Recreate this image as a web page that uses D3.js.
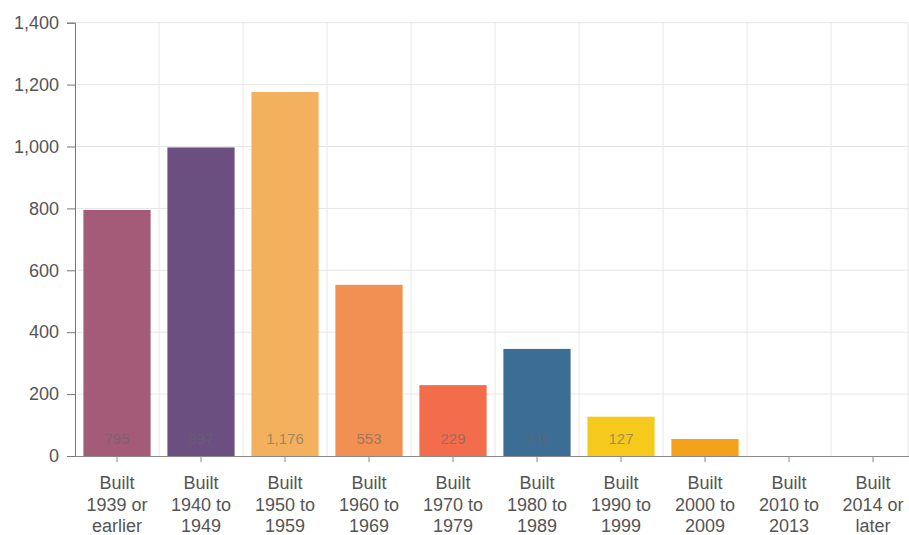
<!DOCTYPE html>
<html><head><meta charset="utf-8">
<script src="https://cdn.jsdelivr.net/npm/d3@7"></script>
<style>
body{margin:0;background:#fff;}
text{font-family:"Liberation Sans",Arial,sans-serif;}
</style></head>
<body><svg id="c" width="909" height="535"></svg>
<script>
const categories = [
  ["Built","1939 or","earlier"],
  ["Built","1940 to","1949"],
  ["Built","1950 to","1959"],
  ["Built","1960 to","1969"],
  ["Built","1970 to","1979"],
  ["Built","1980 to","1989"],
  ["Built","1990 to","1999"],
  ["Built","2000 to","2009"],
  ["Built","2010 to","2013"],
  ["Built","2014 or","later"]
];
const values = [795, 997, 1176, 553, 229, 346, 127, 55, 0, 0];
const colors = ["#a35b78","#6a4f80","#f3b15e","#f28f52","#f36c4b","#3b6d95","#f5ca1c","#f4a11c","#ccc","#ccc"];
const yTicks = [0,200,400,600,800,1000,1200,1400];

(function(){
const svg = d3.select("#c");
const mLeft = 75, mRight = 915, mTop = 22.7, mBottom = 456;
const keys = categories.map((d,i)=>i);
const x = d3.scaleBand().domain(keys).range([mLeft,mRight]).paddingInner(0.2).paddingOuter(0.1);
const y = d3.scaleLinear().domain([0,1400]).range([mBottom,mTop]);

// grid
const g = svg.append("g");
g.selectAll("line.h").data(yTicks.slice(1)).join("line")
  .attr("x1",mLeft).attr("x2",908).attr("y1",d=>y(d)).attr("y2",d=>y(d))
  .attr("stroke","#e6e6e6").attr("stroke-width",1);
const step = x.step();
const vx = keys.slice(1).map(i=>mLeft + step*i);
vx.push(908);
g.selectAll("line.v").data(vx).join("line")
  .attr("x1",d=>d).attr("x2",d=>d).attr("y1",mTop).attr("y2",mBottom)
  .attr("stroke","#e6e6e6").attr("stroke-width",1);

// bars
const fmt = d3.format(",");
svg.append("g").selectAll("rect").data(values).join("rect")
  .attr("x",(d,i)=>x(i)).attr("width",x.bandwidth())
  .attr("y",d=>y(d)).attr("height",d=>mBottom-y(d))
  .attr("fill",(d,i)=>colors[i]);
svg.append("g").selectAll("text").data(values).join("text")
  .filter(d=>mBottom - y(d) > 25)
  .attr("x",(d,i)=>x(i)+x.bandwidth()/2).attr("y",mBottom-12)
  .attr("text-anchor","middle").attr("font-size",15)
  .attr("fill","#666").attr("fill-opacity",0.6)
  .text(d=>fmt(d));

// y axis
const ya = svg.append("g").attr("transform",`translate(${mLeft},0)`)
  .call(d3.axisLeft(y).tickValues(yTicks).tickFormat(fmt).tickSize(8).tickPadding(8));
ya.selectAll("text").attr("font-size",18).attr("fill","#555").style("font-family","'Liberation Sans',Arial,sans-serif");
ya.selectAll("line,path").attr("stroke","#777");

// x axis
const xa = svg.append("g").attr("transform",`translate(0,${mBottom})`)
  .call(d3.axisBottom(x).tickSize(6).tickFormat(""));
xa.select("path").attr("d",`M${mLeft},0.5H909`).attr("stroke","#888");
xa.selectAll("line").attr("stroke","#888");
xa.selectAll(".tick").each(function(d){
  const t = d3.select(this).append("text").attr("fill","#555").attr("font-size",18)
    .attr("text-anchor","middle").style("font-family","'Liberation Sans',Arial,sans-serif");
  categories[d].forEach((s,j)=>{
    t.append("tspan").attr("x",0).attr("y",33+j*21.5).text(s);
  });
});
})();
</script></body></html>
